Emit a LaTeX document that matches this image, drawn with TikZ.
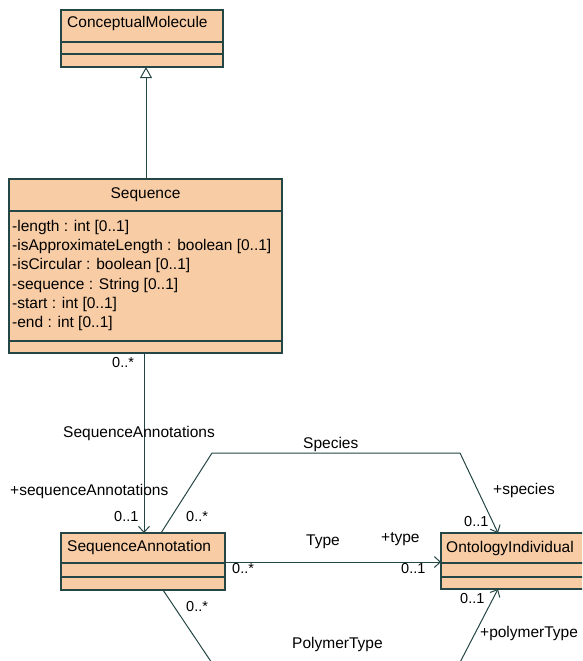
\documentclass[tikz,border=0pt]{standalone}
\usepackage{fontspec}
\setmainfont{Liberation Sans}
\usetikzlibrary{arrows.meta,calc}
\definecolor{boxfill}{HTML}{F8CDA6}
\definecolor{boxline}{HTML}{244644}
\tikzset{
  umlbox/.style={draw=boxline, fill=boxfill, line width=1.1pt, rectangle, inner sep=0pt},
  sepline/.style={draw=boxline, line width=1.1pt},
  conn/.style={draw=boxline, line width=1pt},
  assocarrow/.style={conn, -{Straight Barb[length=6pt,width=11pt,line width=1pt]}},
  genarrow/.style={conn, -{Triangle[open,length=11pt,width=12pt,line width=1pt]}},
  txt/.style={font=\fontsize{15.5}{19}\selectfont, inner sep=0pt, anchor=base west, text=black},
  smalltxt/.style={txt, font=\fontsize{14.5}{18}\selectfont},
}
\begin{document}
\begin{tikzpicture}[x=1pt,y=-1pt]
\useasboundingbox (0,0) rectangle (582,661);
\clip (0,0) rectangle (582,661);
% ConceptualMolecule
\node[umlbox, minimum width=162pt, minimum height=57pt] (cm) at (142,38.5) {};
\draw[sepline] (61,42) -- (223,42);
\draw[sepline] (61,54) -- (223,54);
\node[txt] (cmname) at (67,28) {ConceptualMolecule};
% Sequence
\node[umlbox, minimum width=273pt, minimum height=174pt] (seq) at (145.5,266) {};
\draw[sepline] (9,211) -- (282,211);
\draw[sepline] (9,341) -- (282,341);
\node[txt, anchor=base] (seqname) at (145.5,198) {Sequence};
\node[txt] (a1) at (12,231) {-length : int [0..1]};
\node[txt] (a2) at (12,250.3) {-isApproximateLength : boolean [0..1]};
\node[txt] (a3) at (12,269.6) {-isCircular : boolean [0..1]};
\node[txt] (a4) at (12,289) {-sequence : String [0..1]};
\node[txt] (a5) at (12,308.3) {-start : int [0..1]};
\node[txt] (a6) at (12,327.6) {-end : int [0..1]};
% SequenceAnnotation
\node[umlbox, minimum width=164pt, minimum height=57pt] (sa) at (143,561.5) {};
\draw[sepline] (61,563) -- (225,563);
\draw[sepline] (61,577) -- (225,577);
\node[txt] (saname) at (67,551) {SequenceAnnotation};
% OntologyIndividual
\node[umlbox, minimum width=180pt, minimum height=56pt] (oi) at (531,561) {};
\draw[sepline] (441,563) -- (621,563);
\draw[sepline] (441,577) -- (621,577);
\node[txt] (oiname) at (446,552) {OntologyIndividual};
% connector end points
\coordinate (g1) at (146,179);
\coordinate (g2) at (146,67);
\coordinate (s1) at (144,353);
\coordinate (s2) at (144,533);
\coordinate (sp1) at (161,533);
\coordinate (sp2) at (212,453);
\coordinate (sp3) at (460,453);
\coordinate (sp4) at (498,533);
\coordinate (t1) at (225,562);
\coordinate (t2) at (441,562);
\coordinate (p1) at (163,590);
\coordinate (p2) at (220,675);
\coordinate (p3) at (455,672);
\coordinate (p4) at (498,589);
% connectors
\draw[genarrow] (g1) -- (g2);
\draw[assocarrow] (s1) -- (s2);
\draw[assocarrow] (sp1) -- (sp2) -- (sp3) -- (sp4);
\draw[assocarrow] (t1) -- (t2);
\draw[conn] (p1) -- (p2);
\draw[assocarrow] (p3) -- (p4);
% labels
\node[smalltxt] (l1) at (112,367) {0..*};
\node[txt] (l2) at (63,437) {SequenceAnnotations};
\node[txt] (l3) at (10,495) {+sequenceAnnotations};
\node[smalltxt] (l4) at (114,521) {0..1};
\node[smalltxt] (l5) at (186,521) {0..*};
\node[smalltxt] (l6) at (232,573) {0..*};
\node[smalltxt] (l7) at (186,611) {0..*};
\node[txt] (l8) at (303,448) {Species};
\node[txt] (l9) at (493,494) {+species};
\node[smalltxt] (l10) at (464,526) {0..1};
\node[txt] (l11) at (306,545) {Type};
\node[txt] (l12) at (381,542) {+type};
\node[smalltxt] (l13) at (401,573) {0..1};
\node[smalltxt] (l14) at (460,603) {0..1};
\node[txt] (l15) at (480,637) {+polymerType};
\node[txt] (l16) at (292,648) {PolymerType};
\end{tikzpicture}
\end{document}
